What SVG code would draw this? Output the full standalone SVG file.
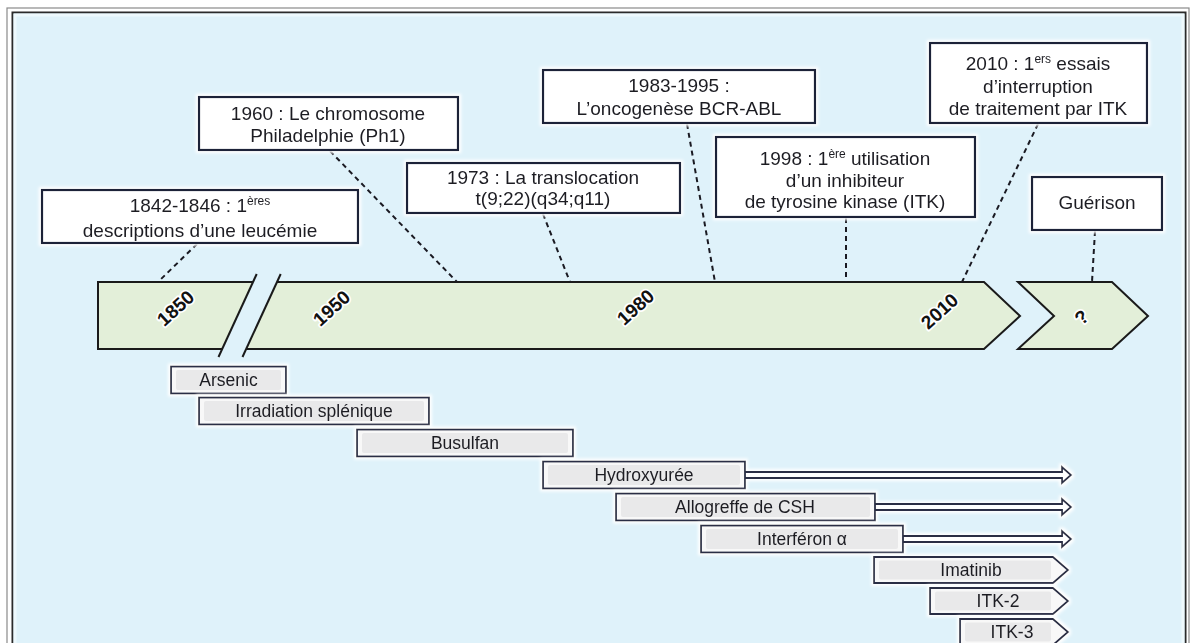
<svg xmlns="http://www.w3.org/2000/svg" width="1192" height="643" viewBox="0 0 1192 643">
<style>
  text { font-family: "Liberation Sans", Arial, sans-serif; fill: #1e1e24; }
  .ev { font-size: 19px; text-anchor: middle; }
  .sup { font-size: 12px; }
  .tr { font-size: 17.5px; text-anchor: middle; }
  .yr { font-size: 19px; font-weight: bold; text-anchor: middle; fill: #111; stroke: #ffffff; stroke-width: 3.5px; paint-order: stroke; stroke-linejoin: round; }
  .box { fill: #ffffff; stroke: #1d2238; stroke-width: 2.2; }
  .bar { fill: #e3efd9; stroke: none; }
  .barline { fill: none; stroke: #1a1a1a; stroke-width: 2; stroke-linejoin: miter; }
  .conn { fill: none; stroke: #1a1a22; stroke-width: 2; stroke-dasharray: 5 4; }
  .tbo { fill: #f8f8f8; stroke: #2a2e44; stroke-width: 1.8; }
  .tbi { fill: #e9e9ea; stroke: none; }
  .dbl { fill: #ffffff; stroke: #2a2e44; stroke-width: 1.8; stroke-linejoin: miter; }
</style>
<defs>
  <filter id="glow" x="-10%" y="-20%" width="120%" height="140%">
    <feMorphology in="SourceAlpha" operator="dilate" radius="2" result="d"/>
    <feGaussianBlur in="d" stdDeviation="1.5" result="b"/>
    <feFlood flood-color="#ffffff"/>
    <feComposite in2="b" operator="in" result="w"/>
    <feMerge><feMergeNode in="w"/><feMergeNode in="SourceGraphic"/></feMerge>
  </filter>
</defs>
<rect x="0" y="0" width="1192" height="643" fill="#ffffff"/>
<g id="frame">
  <rect x="7" y="8" width="1182" height="660" fill="none" stroke="#8a8a8a" stroke-width="1.2"/>
  <rect x="12.5" y="12.5" width="1173" height="660" fill="#dff2fa" stroke="#2b2b2b" stroke-width="2"/>
  <rect x="15" y="15" width="1168" height="660" fill="none" stroke="#eef9fd" stroke-width="3"/>
</g>
<g id="timeline">
  <polygon class="bar" points="98,282 253,282 222,349 98,349"/>
  <path class="barline" d="M253,282 H98 V349 H222"/>
  <polygon class="bar" points="277,282 984,282 1020,316 984,349 246,349"/>
  <path class="barline" d="M277,282 H984 L1020,316 L984,349 H246"/>
  <path class="barline" d="M256.7,274 L218.5,357"/>
  <path class="barline" d="M280.7,274 L242.5,357"/>
  <polygon class="bar" points="1018,282 1112,282 1148,316 1112,349 1018,349 1054,316"/>
  <path class="barline" d="M1018,282 H1112 L1148,316 L1112,349 H1018 L1054,316 Z"/>
  <text class="yr" transform="translate(180,313) rotate(-42)">1850</text>
  <text class="yr" transform="translate(336,313) rotate(-42)">1950</text>
  <text class="yr" transform="translate(640,312) rotate(-42)">1980</text>
  <text class="yr" transform="translate(944,316) rotate(-42)">2010</text>
  <text class="yr" transform="translate(1086,322) rotate(-42)">?</text>
</g>
<g id="connectors">
  <path class="conn" d="M197,244 L158,282"/>
  <path class="conn" d="M330,151 L457,282"/>
  <path class="conn" d="M543,214 L570,282"/>
  <path class="conn" d="M687,124 L715,282"/>
  <path class="conn" d="M846,218 L846,282"/>
  <path class="conn" d="M1038,124 L962,282"/>
  <path class="conn" d="M1095,231 L1092,282"/>
</g>
<g id="ev1842" filter="url(#glow)">
  <rect class="box" x="42" y="190" width="316" height="53"/>
  <text class="ev" x="200" y="212">1842-1846 : 1<tspan class="sup" dy="-7">ères</tspan></text>
  <text class="ev" x="200" y="237">descriptions d’une leucémie</text>
</g>
<g id="ev1960" filter="url(#glow)">
  <rect class="box" x="199" y="97" width="259" height="53"/>
  <text class="ev" x="328" y="120">1960 : Le chromosome</text>
  <text class="ev" x="328" y="142">Philadelphie (Ph1)</text>
</g>
<g id="ev1973" filter="url(#glow)">
  <rect class="box" x="407" y="163" width="273" height="50"/>
  <text class="ev" x="543" y="184">1973 : La translocation</text>
  <text class="ev" x="543" y="205">t(9;22)(q34;q11)</text>
</g>
<g id="ev1983" filter="url(#glow)">
  <rect class="box" x="543" y="70" width="272" height="53"/>
  <text class="ev" x="679" y="92">1983-1995 :</text>
  <text class="ev" x="679" y="115">L’oncogenèse BCR-ABL</text>
</g>
<g id="ev1998" filter="url(#glow)">
  <rect class="box" x="716" y="137" width="259" height="80"/>
  <text class="ev" x="845" y="165">1998 : 1<tspan class="sup" dy="-7">ère</tspan><tspan dy="7"> utilisation</tspan></text>
  <text class="ev" x="845" y="187">d’un inhibiteur</text>
  <text class="ev" x="845" y="208">de tyrosine kinase (ITK)</text>
</g>
<g id="ev2010" filter="url(#glow)">
  <rect class="box" x="930" y="43" width="217" height="80"/>
  <text class="ev" x="1038" y="70">2010 : 1<tspan class="sup" dy="-7">ers</tspan><tspan dy="7"> essais</tspan></text>
  <text class="ev" x="1038" y="93">d’interruption</text>
  <text class="ev" x="1038" y="115">de traitement par ITK</text>
</g>
<g id="evGuerison" filter="url(#glow)">
  <rect class="box" x="1032" y="177" width="130" height="53"/>
  <text class="ev" x="1097" y="209">Guérison</text>
</g>
<g id="arsenic" filter="url(#glow)">
  <rect class="tbo" x="171" y="366.5" width="115" height="27"/>
  <rect class="tbi" x="176" y="370" width="105" height="20" rx="2"/>
  <text class="tr" x="228.5" y="386">Arsenic</text>
</g>
<g id="irradiation" filter="url(#glow)">
  <rect class="tbo" x="199" y="397.5" width="230" height="27"/>
  <rect class="tbi" x="204" y="401" width="220" height="20" rx="2"/>
  <text class="tr" x="314" y="417">Irradiation splénique</text>
</g>
<g id="busulfan" filter="url(#glow)">
  <rect class="tbo" x="357" y="429.5" width="216" height="27"/>
  <rect class="tbi" x="362" y="433" width="206" height="20" rx="2"/>
  <text class="tr" x="465" y="449">Busulfan</text>
</g>
<g id="hydroxyuree" filter="url(#glow)">
  <path class="dbl" d="M745,472 H1062 V467 L1071,475 L1062,483 V478 H745"/>
  <rect class="tbo" x="543" y="461.5" width="202" height="27"/>
  <rect class="tbi" x="548" y="465" width="192" height="20" rx="2"/>
  <text class="tr" x="644" y="481">Hydroxyurée</text>
</g>
<g id="allogreffe" filter="url(#glow)">
  <path class="dbl" d="M875,504 H1062 V499 L1071,507 L1062,515 V510 H875"/>
  <rect class="tbo" x="616" y="493.5" width="259" height="27"/>
  <rect class="tbi" x="621" y="497" width="249" height="20" rx="2"/>
  <text class="tr" x="745" y="513">Allogreffe de CSH</text>
</g>
<g id="interferon" filter="url(#glow)">
  <path class="dbl" d="M903,536 H1062 V531 L1071,539 L1062,547 V542 H903"/>
  <rect class="tbo" x="701" y="525.5" width="202" height="27"/>
  <rect class="tbi" x="706" y="529" width="192" height="20" rx="2"/>
  <text class="tr" x="802" y="545">Interféron α</text>
</g>
<g id="imatinib" filter="url(#glow)">
  <path class="tbo" d="M874,557 H1053 L1068,570 L1053,583 H874 Z"/>
  <rect class="tbi" x="879" y="560.5" width="172" height="19" rx="2"/>
  <text class="tr" x="971" y="576">Imatinib</text>
</g>
<g id="itk2" filter="url(#glow)">
  <path class="tbo" d="M930,588 H1053 L1068,601 L1053,614 H930 Z"/>
  <rect class="tbi" x="935" y="591.5" width="116" height="19" rx="2"/>
  <text class="tr" x="998" y="607">ITK-2</text>
</g>
<g id="itk3" filter="url(#glow)">
  <path class="tbo" d="M960,619 H1053 L1068,632 L1053,645 H960 Z"/>
  <rect class="tbi" x="965" y="622.5" width="86" height="19" rx="2"/>
  <text class="tr" x="1012" y="638">ITK-3</text>
</g>
</svg>
